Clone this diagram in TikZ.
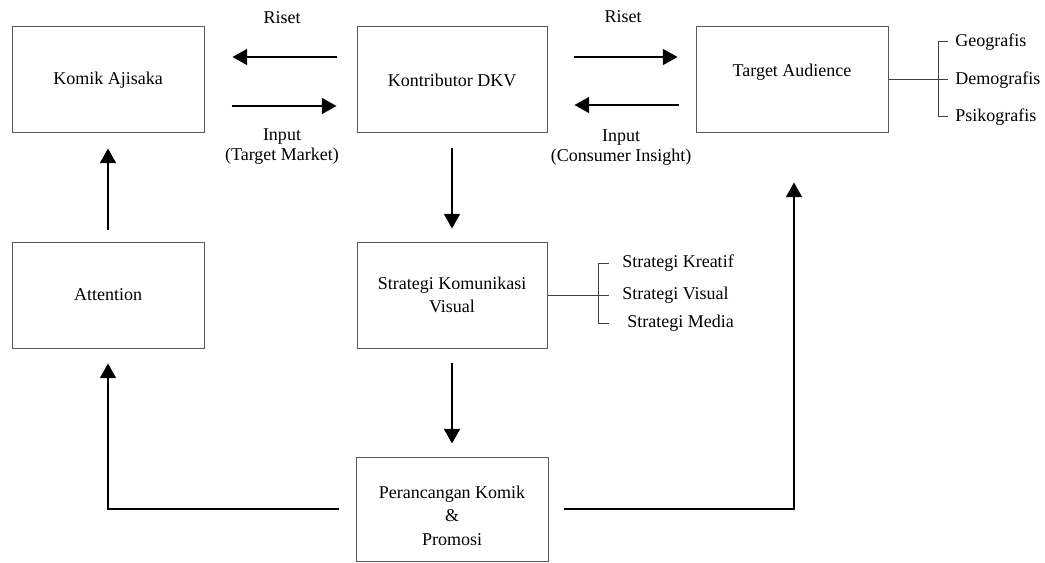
\documentclass[tikz,border=0pt]{standalone}
\usepackage{fontspec}
\setmainfont{Liberation Serif}
\usetikzlibrary{arrows.meta}
\tikzset{
	box/.style={draw=gray!70!black, line width=0.75pt, minimum width=144pt, minimum height=79.5pt, inner sep=0pt, align=center},
	arr/.style={draw=black, line width=1.3pt, -{Triangle[width=12pt,length=11pt]}},
	link/.style={draw=gray!50!black, line width=0.75pt},
	note/.style={inner sep=0pt, align=center, font=\fontsize{13.5}{15}\selectfont},
	item/.style={anchor=west, inner ysep=0pt, inner xsep=5.25pt},
}
\begin{document}
	\begin{tikzpicture}[x=0.75pt, y=-0.75pt, font=\fontsize{13.5}{17.6}\selectfont]
		\useasboundingbox (0,0) rectangle (1045,563);
		\node (komik) [box] at (108,80) {Komik Ajisaka};
		\node (kontributor) [box, minimum width=142.5pt] at (452,80) {Kontributor DKV};
		\node (target) [box, label={[yshift=6pt]center:Target Audience}] at (792,80) {};
		\node (attention) [box] at (108,295) {Attention};
		\node (strategi) [box, minimum width=142.5pt] at (452,295) {Strategi Komunikasi\\Visual};
		\node (perancangan) [box, minimum height=78pt, label={[align=center, yshift=-5pt]center:Perancangan Komik\\\&\\Promosi}] at (452,509) {};
		\node (riset1) [note] at (282,18) {Riset};
		\node (input1) [note] at (282,147) {Input\\(Target Market)};
		\node (riset2) [note] at (623,17) {Riset};
		\node (input2) [note] at (621,148) {Input\\(Consumer Insight)};
		\node (geo) [item] at (948,42) {Geografis};
		\node (demo) [item] at (948,80) {Demografis};
		\node (psiko) [item] at (948,117) {Psikografis};
		\node (kreatif) [item, inner xsep=9.75pt] at (609,263) {Strategi Kreatif};
		\node (visual) [item, inner xsep=9.75pt] at (609,295) {Strategi Visual};
		\node (media) [item, inner xsep=9.75pt] at (609,323) {\hspace{3.75pt}Strategi Media};
		\draw [arr, shorten <=15pt, shorten >=21pt] ([yshift=17.25pt]kontributor.west) -- ([yshift=17.25pt]komik.east);
		\draw [arr, shorten <=20.25pt, shorten >=15pt] ([yshift=-19.5pt]komik.east) -- ([yshift=-19.5pt]kontributor.west);
		\draw [arr, shorten <=19.5pt, shorten >=13.5pt] ([yshift=17.25pt]kontributor.east) -- ([yshift=17.25pt]target.west);
		\draw [arr, shorten <=12.75pt, shorten >=20.25pt] ([yshift=-18.75pt]target.west) -- ([yshift=-18.75pt]kontributor.east);
		\draw [arr, shorten <=11.25pt, shorten >=9.75pt] (kontributor.south) -- (strategi.north);
		\draw [arr, shorten <=10.5pt, shorten >=9.75pt] (strategi.south) -- (perancangan.north);
		\draw [arr, shorten <=9pt, shorten >=11.25pt] (attention.north) -- (komik.south);
		\draw [arr, shorten <=12.75pt, shorten >=11.25pt] (perancangan.west) -| (attention.south);
		\draw [arr, shorten <=11.25pt, shorten >=36.75pt] (perancangan.east) -| ([xshift=1.5pt]target.south);
		\draw [link] (target.east) -- (demo.west);
		\draw [link] (geo.west) -- ++(-10,0) |- (psiko.west);
		\draw [link] (strategi.east) -- (visual.west);
		\draw [link] (kreatif.west) -- ++(-11,0) |- (media.west);
	\end{tikzpicture}
\end{document}
